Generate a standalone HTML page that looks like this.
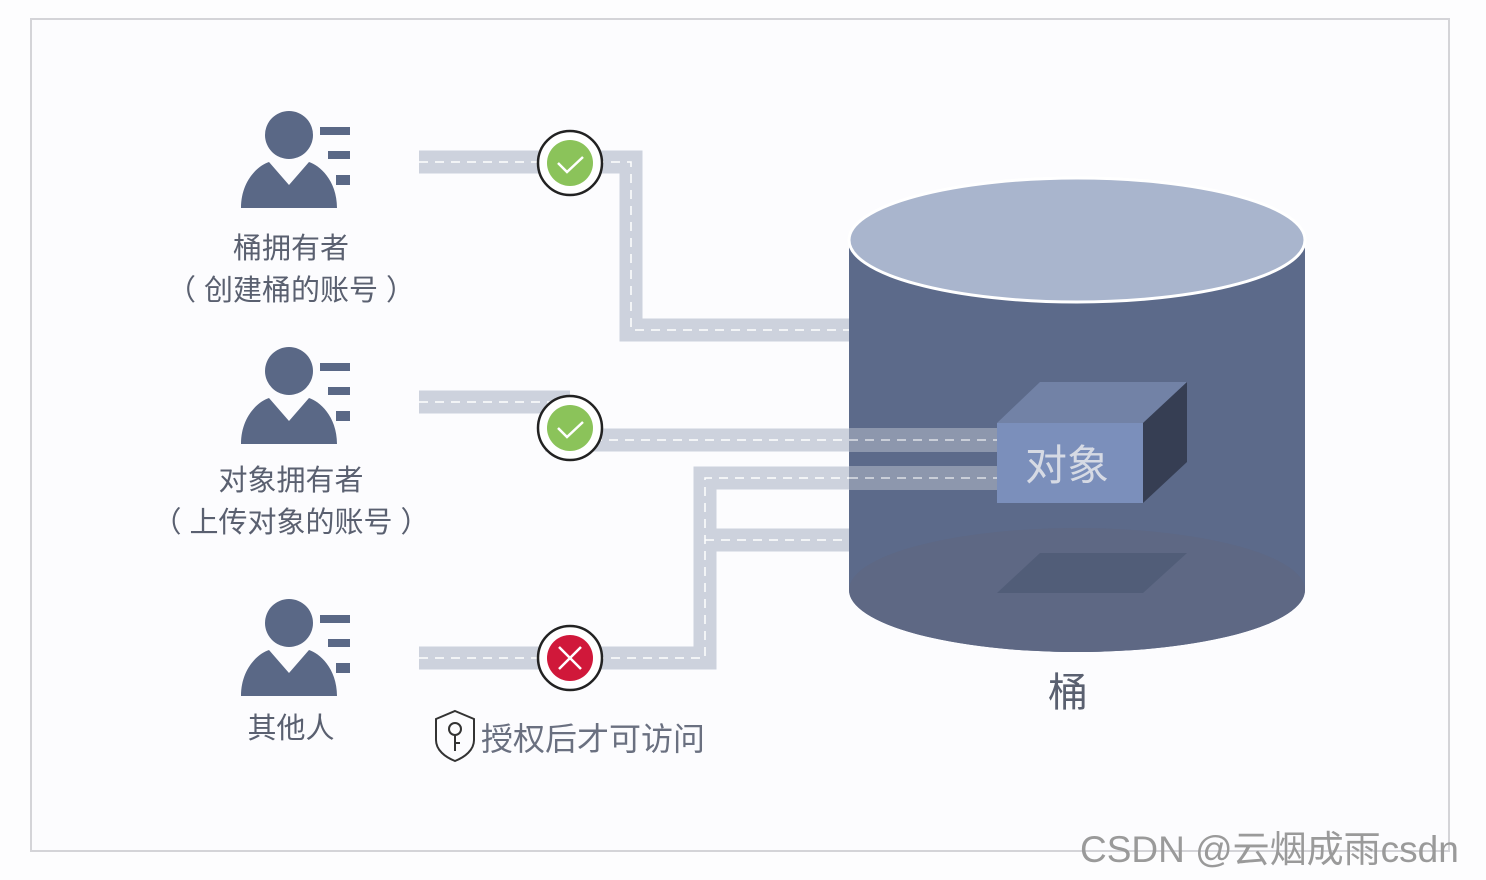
<!DOCTYPE html>
<html><head><meta charset="utf-8"><style>
html,body{margin:0;padding:0;background:#fdfdfe;}
svg{display:block;}
text{font-family:"Liberation Sans","Noto Sans CJK SC",sans-serif;}
</style></head><body>
<svg width="1486" height="880" viewBox="0 0 1486 880" xmlns="http://www.w3.org/2000/svg">
<defs>
<g id="person">
  <circle cx="0" cy="0" r="24" fill="#5a6886"/>
  <path d="M-48,73 C-48,45 -30,30 -20,27 L0,50 L20,27 C30,30 48,45 48,73 Z" fill="#5a6886"/>
  <rect x="31" y="-8" width="30" height="8" fill="#5a6886"/>
  <rect x="39" y="16" width="22" height="8" fill="#5a6886"/>
  <rect x="47" y="40" width="14" height="10" fill="#5a6886"/>
</g>
</defs>
<rect x="31" y="19" width="1418" height="832" fill="#fcfcfe" stroke="#d4d4d8" stroke-width="2"/>

<g fill="none" stroke="#cdd2dd" stroke-width="23">
  <path d="M419,162 H631 V330 H850"/>
  <path d="M419,402 H570"/>
  <path d="M545,440 H850"/>
  <path d="M419,658 H705 V478 H850"/>
  <path d="M705,540 H850"/>
</g>
<g fill="none" stroke="#ffffff" stroke-width="1.5" stroke-dasharray="9,7">
  <path d="M419,162 H631 V330 H850"/>
  <path d="M419,402 H570"/>
  <path d="M545,440 H850"/>
  <path d="M419,658 H705 V478 H850"/>
  <path d="M705,540 H850"/>
</g>

<path d="M849,240 V590 A228,62 0 0 0 1305,590 V240 Z" fill="#5c6a8a"/>
<path d="M849,590 A228,62 0 0 1 1305,590 A228,62 0 0 1 849,590 Z" fill="#5e6884"/>
<ellipse cx="1077" cy="240" rx="228" ry="62" fill="#a9b5cd" stroke="#ffffff" stroke-width="3"/>
<rect x="849" y="428" width="150" height="24" fill="#ffffff" opacity="0.3"/>
<rect x="849" y="466" width="150" height="24" fill="#ffffff" opacity="0.3"/>
<g stroke="#ffffff" stroke-width="1.5" stroke-dasharray="9,7" opacity="0.7">
  <path d="M849,440 H999"/><path d="M849,478 H999"/>
</g>
<polygon points="997,593 1040,553 1187,553 1143,593" fill="#515d78"/>
<polygon points="997,423 1040,382 1187,382 1143,423" fill="#7282a6"/>
<polygon points="1143,423 1187,382 1187,462 1143,503" fill="#363e53"/>
<rect x="997" y="423" width="146" height="80" fill="#7b8fbb"/>
<text x="1067" y="480" font-size="42" fill="#d6dae4" text-anchor="middle">对象</text>
<text x="1068" y="706" font-size="40" fill="#5a6070" text-anchor="middle">桶</text>

<use href="#person" x="289" y="135"/>
<use href="#person" x="289" y="371"/>
<use href="#person" x="289" y="623"/>
<g font-size="29" fill="#5a6070" text-anchor="middle">
<text x="291" y="258">桶拥有者</text>
<text x="291" y="300">（ 创建桶的账号 ）</text>
<text x="291" y="490">对象拥有者</text>
<text x="291" y="532">（ 上传对象的账号 ）</text>
<text x="291" y="738">其他人</text>
</g>

<g>
  <circle cx="570" cy="163" r="32" fill="#fff" stroke="#222" stroke-width="2.5"/>
  <circle cx="570" cy="163" r="23" fill="#8bc35a"/>
  <path d="M558,163 L567,172 L583,157" fill="none" stroke="#fff" stroke-width="2.5"/>
</g>
<g>
  <circle cx="570" cy="428" r="32" fill="#fff" stroke="#222" stroke-width="2.5"/>
  <circle cx="570" cy="428" r="23" fill="#8bc35a"/>
  <path d="M558,428 L567,437 L583,422" fill="none" stroke="#fff" stroke-width="2.5"/>
</g>
<g>
  <circle cx="570" cy="658" r="32" fill="#fff" stroke="#222" stroke-width="2.5"/>
  <circle cx="570" cy="658" r="23" fill="#d0183a"/>
  <path d="M559,647 L581,669 M581,647 L559,669" fill="none" stroke="#fff" stroke-width="2.5"/>
</g>

<path d="M455,711 L474,719 V740 C474,750 465,757 455,761 C445,757 436,750 436,740 V719 Z" fill="none" stroke="#333" stroke-width="2"/>
<circle cx="455" cy="729" r="6" fill="none" stroke="#333" stroke-width="2"/>
<path d="M455,735 V751 M455,743 H460" stroke="#333" stroke-width="2"/>
<text x="481" y="750" font-size="32" fill="#6a7080">授权后才可访问</text>

<line x1="1449" y1="19" x2="1449" y2="851" stroke="#d4d4d8" stroke-width="2"/>
<text x="1080" y="862" font-size="37" fill="#9a9a9a">CSDN @云烟成雨csdn</text>
</svg>
</body></html>
